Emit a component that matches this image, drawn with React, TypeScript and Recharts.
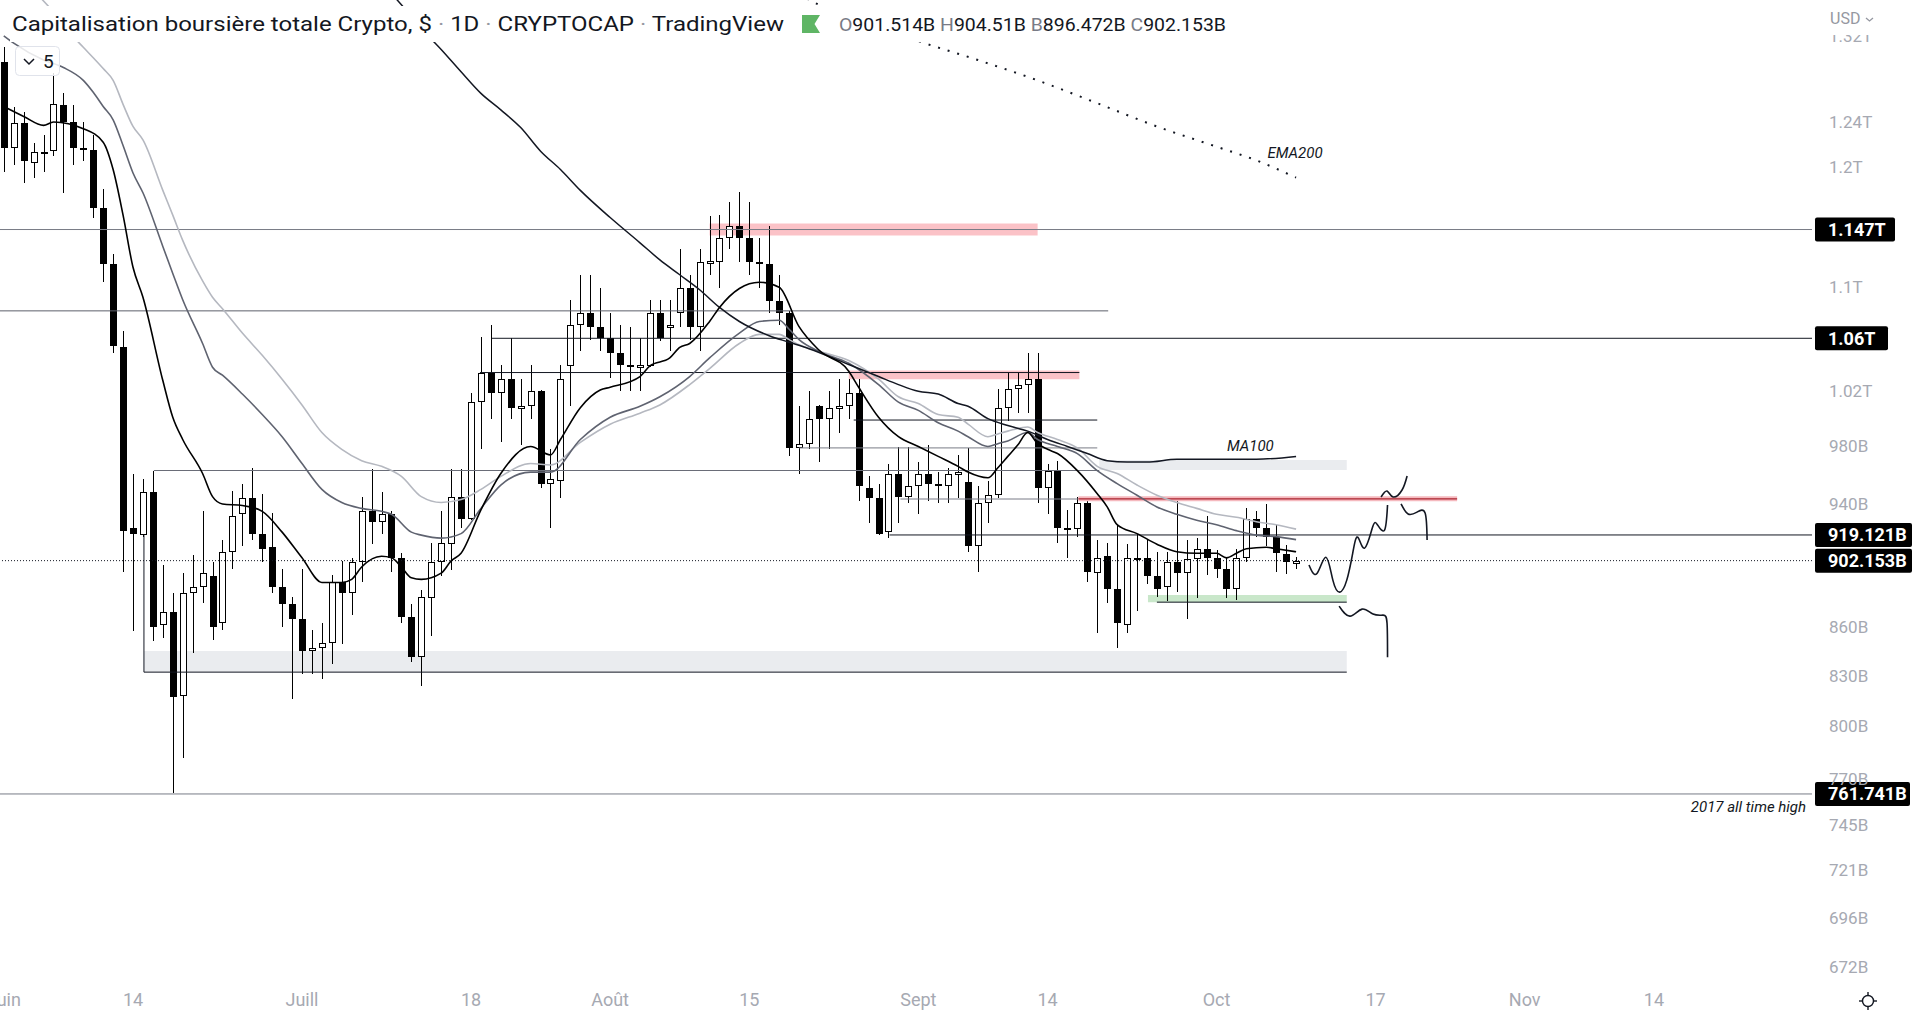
import React from 'react';
import {
  ComposedChart,
  Bar,
  Line,
  XAxis,
  YAxis,
  ReferenceLine,
  ReferenceArea,
  ReferenceDot,
} from 'recharts';

// ---- Daily candles, first candle = 2022-06-01 (index = day number) ----
const OPEN = [
  1295, 1217, 1239, 1204, 1213, 1214, 1255, 1240, 1217, 1215,
  1165, 1119, 1053, 924, 919, 948, 861, 869, 818, 881,
  885, 892, 862, 908, 933, 944, 920, 911, 885, 874,
  865, 845, 847, 850, 888, 881, 901, 935, 928, 933,
  904, 866, 841, 878, 901, 913, 945, 930, 1012, 1034,
  1019, 1029, 1008, 1009, 1020, 954, 956, 1039, 1070, 1080,
  1069, 1060, 1049, 1040, 1039, 1039, 1080, 1069, 1080, 1099,
  1069, 1120, 1120, 1140, 1150, 1140, 1120, 1119, 1089, 1080,
  979, 982, 1009, 1000, 1008, 1009, 1019, 951, 944, 921,
  961, 945, 952, 961, 954, 952, 961, 955, 912, 941,
  946, 1008, 1022, 1025, 1029, 951, 963, 924, 923, 941,
  894, 905, 884, 861, 904, 904, 892, 885, 901, 894,
  903, 910, 904, 897, 884, 904, 930, 924, 918, 906.5,
  901.514,
];
const HIGH = [
  1309, 1254, 1249, 1221, 1228, 1285, 1266, 1255, 1240, 1228,
  1181, 1127, 1066, 961, 957, 963, 899, 881, 894, 906,
  935, 901, 916, 949, 954, 965, 947, 934, 897, 879,
  897, 858, 862, 893, 902, 904, 945, 964, 948, 935,
  907, 874, 883, 914, 935, 964, 964, 1019, 1061, 1070,
  1040, 1060, 1029, 1040, 1021, 978, 1040, 1090, 1110, 1110,
  1099, 1080, 1070, 1069, 1060, 1090, 1090, 1090, 1131, 1110,
  1131, 1158, 1159, 1170, 1179, 1170, 1140, 1150, 1110, 1081,
  1009, 1020, 1010, 1020, 1029, 1029, 1029, 959, 954, 968,
  980, 980, 969, 981, 962, 965, 974, 979, 952, 956,
  1022, 1034, 1034, 1049, 1049, 968, 970, 936, 945, 944,
  916, 914, 926, 913, 920, 916, 908, 908, 943, 916,
  917, 932, 909, 904, 910, 937, 935, 940, 926, 912.5,
  904.51,
];
const LOW = [
  1196, 1202, 1186, 1191, 1196, 1210, 1178, 1202, 1205, 1157,
  1104, 1049, 895, 857, 918, 851, 853, 762, 782, 844,
  875, 852, 858, 897, 912, 916, 901, 881, 860, 816,
  831, 831, 828, 837, 849, 867, 888, 913, 920, 895,
  862, 838, 824, 854, 892, 896, 924, 929, 978, 1000,
  983, 1000, 981, 1000, 951, 924, 944, 1009, 1050, 1059,
  1050, 1030, 1020, 1020, 1020, 1038, 1058, 1050, 1069, 1059,
  1050, 1110, 1099, 1131, 1120, 1110, 1099, 1080, 1070, 973,
  961, 978, 969, 978, 990, 1000, 942, 927, 919, 917,
  927, 941, 933, 942, 941, 941, 944, 908, 895, 927,
  944, 998, 1004, 1004, 941, 933, 914, 904, 918, 888,
  856, 875, 847, 856, 870, 887, 879, 876, 882, 865,
  878, 893, 891, 878, 877, 901, 918, 912, 895, 893.4,
  896.472,
];
const CLOSE = [
  1217, 1239, 1205, 1213, 1212, 1256, 1240, 1217, 1215, 1165,
  1119, 1054, 922, 920, 948, 860, 869, 817, 881, 885,
  894, 860, 908, 932, 944, 920, 910, 885, 874, 865,
  845, 847, 850, 888, 881, 901, 935, 928, 933, 904,
  866, 841, 879, 901, 914, 945, 930, 1012, 1034, 1019,
  1029, 1008, 1009, 1020, 954, 957, 1029, 1070, 1080, 1069,
  1060, 1049, 1040, 1039, 1039.5, 1080, 1060, 1070, 1099, 1069,
  1120, 1121, 1140, 1150, 1140, 1120, 1119, 1089, 1080, 979,
  982, 1000, 1000, 1008, 1009, 1019, 952, 944, 920, 961,
  945, 952, 961, 954, 952, 961, 962, 912, 941, 946,
  1008, 1022, 1025, 1029, 951, 963, 924, 923, 941, 895,
  904, 884, 862, 904, 903, 892, 884, 901, 894, 903,
  910, 904, 897, 884, 904, 930, 924, 918, 907, 901.5,
  902.153,
];

// ---- Moving averages: [day, value in B] ----
const EMA_FAST: [number, number][] = [
  [0, 1254], [2, 1245], [4, 1237], [5, 1240], [8, 1234], [10, 1222], [11, 1198], [12, 1159],
  [13, 1116], [14, 1092], [16, 1028], [17, 1001], [18, 985], [20, 961], [21, 945], [22, 940],
  [24, 939], [26, 935], [28, 921], [30, 904], [32, 888], [34, 888], [35, 890], [36, 898],
  [38, 905], [39, 904], [40, 898], [41, 891], [42, 890], [44, 894], [45, 902], [46, 907],
  [48, 936], [50, 961], [53, 980], [55, 974], [56, 985], [58, 1008], [60, 1021], [61, 1023],
  [64, 1031], [65, 1039], [67, 1045], [68, 1053], [69, 1056], [71, 1073], [72, 1084], [74, 1099],
  [76, 1104], [78, 1100], [80, 1069], [82, 1051], [85, 1035], [86, 1023], [88, 1001], [90, 987],
  [92, 980], [94, 973], [96, 966], [97, 962], [99, 958], [100, 965], [101, 973], [102, 981],
  [103, 990], [104, 982], [105, 978], [106, 975], [108, 963], [110, 947], [111, 938], [112, 926],
  [114, 920], [116, 913], [118, 908], [120, 907], [122, 907], [123, 904], [124, 907], [125, 910],
  [127, 911], [128, 910], [130, 908],
];
const EMA_MID: [number, number][] = [
  [0, 1320], [1, 1313], [4, 1297], [6, 1290], [8, 1278], [9, 1267], [10, 1254], [11, 1242],
  [12, 1219], [13, 1195], [14, 1178], [16, 1133], [17, 1111], [18, 1090], [20, 1056], [21, 1038],
  [22, 1032], [24, 1018], [26, 1003], [28, 987], [30, 968], [32, 950], [34, 941], [36, 937],
  [38, 935], [39, 933], [41, 921], [42, 919], [44, 917], [46, 920], [48, 937], [50, 953],
  [53, 962], [55, 962], [58, 985], [61, 1001], [64, 1009], [66, 1016], [69, 1031], [71, 1045],
  [74, 1064], [76, 1073], [78, 1074], [79, 1067], [80, 1059], [82, 1050], [85, 1041], [88, 1025],
  [90, 1012], [92, 1006], [94, 997], [96, 991], [97, 987], [99, 980], [100, 982], [101, 984],
  [103, 990], [104, 985], [106, 980], [108, 975], [110, 963], [112, 954], [114, 946], [116, 938],
  [118, 933], [120, 929], [122, 926], [124, 922], [126, 919], [128, 918], [130, 916],
];
const EMA_SLOW: [number, number][] = [
  [3, 1364], [5, 1343], [7, 1319], [8, 1309], [10, 1289], [11, 1278], [12, 1256], [13, 1236],
  [14, 1224], [16, 1180], [17, 1159], [18, 1138], [20, 1105], [21, 1092], [22, 1083], [24, 1064],
  [26, 1047], [28, 1029], [30, 1010], [32, 990], [34, 978], [36, 970], [38, 966], [40, 959],
  [42, 945], [44, 941], [46, 943], [48, 950], [50, 959], [53, 968], [55, 967], [58, 983],
  [61, 996], [64, 1004], [66, 1010], [69, 1025], [71, 1037], [74, 1056], [76, 1063], [78, 1063],
  [79, 1059], [80, 1055], [82, 1050], [85, 1043], [88, 1029], [90, 1016], [92, 1011], [94, 1003],
  [96, 1001], [97, 996], [99, 987], [100, 989], [101, 991], [103, 994], [104, 990], [106, 985],
  [108, 979], [110, 966], [112, 961], [114, 953], [116, 946], [118, 941], [120, 937], [122, 933],
  [124, 931], [126, 928], [128, 926], [130, 923],
];
const MA100: [number, number][] = [
  [38, 1372], [40, 1350], [42, 1327], [44, 1307], [46, 1286], [48, 1266], [50, 1251], [52, 1235],
  [54, 1214], [56, 1198], [58, 1180], [61, 1157], [64, 1136], [66, 1122], [68, 1110], [70, 1098],
  [72, 1084], [74, 1073], [77, 1062], [79, 1057], [81, 1052], [85, 1040], [88, 1031], [90, 1025],
  [92, 1020], [94, 1018], [96, 1011], [97, 1009], [99, 1000], [101, 995], [103, 991], [105, 985],
  [107, 980], [109, 975], [111, 970], [113, 969], [115, 969], [118, 971], [122, 971], [126, 971],
  [130, 973],
];
const EMA200: [number, number][] = [
  [80, 1362], [81, 1355], [82, 1350], [88, 1329], [92, 1315], [98, 1297], [104, 1278],
  [110, 1257], [116, 1236], [122, 1218], [126, 1206], [130, 1191],
];

// ---- Hand-drawn forecast strokes: [day, value] ----
const SKETCH_A: [number, number][] = [
  [131.3, 899.3], [132.1, 893.8], [133.0, 904.4], [133.7, 889.5], [134.4, 881.8], [135.1, 889.5],
  [135.7, 907.1], [136.2, 917.7], [136.9, 910.4], [137.7, 924.4], [138.2, 925.8], [138.9, 922.4],
  [139.2, 939.3],
];
const SKETCH_A2: [number, number][] = [
  [138.55, 944.8], [139.15, 948.9], [139.76, 944.8], [140.66, 949.6], [141.17, 959.3],
];
const SKETCH_B: [number, number][] = [
  [140.56, 940.0], [141.27, 933.2], [142.17, 934.5], [142.98, 933.9], [143.18, 915.7],
];
const SKETCH_C: [number, number][] = [
  [134.33, 872.9], [135.43, 866.6], [136.64, 871.0], [137.74, 867.9], [138.75, 867.2],
  [139.15, 862.2], [139.2, 841.2],
];

// ---- Axes ----
const TIME_TICKS = [0, 13, 30, 47, 61, 75, 92, 105, 122, 138, 153, 166];
const TIME_LABELS = ['Juin', '14', 'Juill', '18', 'Août', '15', 'Sept', '14', 'Oct', '17', 'Nov', '14'];
const PRICE_TICKS = [1320, 1240, 1200, 1100, 1020, 980, 940, 860, 830, 800, 770, 745, 721, 696, 672];
const X_DOMAIN: [number, number] = [-0.38, 181.9];
const Y_DOMAIN: [number, number] = [663.2, 1354.7];

const candles = OPEN.map((o, i) => ({
  d: i,
  open: o,
  high: HIGH[i],
  low: LOW[i],
  close: CLOSE[i],
  range: [LOW[i], HIGH[i]],
}));
const series = (pts: [number, number][]) => pts.map(([d, v]) => ({ d, v }));

const FONT = 'Roboto, "Noto Sans", sans-serif';

const Candle = (props: any) => {
  const { x, y, width, height, payload } = props;
  if (!payload || !isFinite(x) || !isFinite(y) || !isFinite(height)) return null;
  const { open, close, high, low } = payload;
  const lh = Math.log(high);
  const ll = Math.log(low);
  const span = lh - ll || 1;
  const toY = (v: number) => y + ((lh - Math.log(v)) / span) * height;
  const cx = Math.round(x + width / 2);
  const up = close >= open;
  const top = Math.round(toY(Math.max(open, close)));
  const bot = Math.round(toY(Math.min(open, close)));
  const yh = Math.round(toY(high));
  const yl = Math.round(toY(low));
  return (
    <g>
      <line x1={cx + 0.5} x2={cx + 0.5} y1={yh} y2={yl} stroke="#000" strokeWidth={1} />
      {up ? (
        <rect
          x={cx - 2.5}
          y={top + 0.5}
          width={6}
          height={Math.max(bot - top - 1, 2)}
          fill="#fff"
          stroke="#000"
          strokeWidth={1}
        />
      ) : (
        <rect x={cx - 3} y={top} width={7} height={Math.max(bot - top, 2)} fill="#000" />
      )}
    </g>
  );
};

const TimeTick = (props: any) => {
  const { x, y, payload } = props;
  const i = TIME_TICKS.indexOf(payload.value);
  return (
    <text x={x} y={y + 15} dy="0.35em" textAnchor="middle" fontSize={18} fill="#a6a9b2" fontFamily={FONT}>
      {TIME_LABELS[i]}
    </text>
  );
};

const fmtPrice = (v: number) => (v >= 1000 ? `${v / 1000}T` : `${v}B`);

const PriceTick = (props: any) => {
  const { x, y, payload } = props;
  return (
    <text x={x + 17} y={y} dy="0.35em" textAnchor="start" fontSize={17} fill="#a6a9b2" fontFamily={FONT}>
      {fmtPrice(payload.value)}
    </text>
  );
};

const tag = (text: string, w: number) => (p: any) => {
  const vb = p.viewBox || {};
  const right = (vb.x ?? 0) + (vb.width ?? 0);
  const cy = vb.y ?? 0;
  return (
    <g>
      <rect x={right + 3} y={cy - 12} width={w} height={24} rx={2} fill="#000" />
      <text x={right + 16} y={cy} dy="0.36em" fill="#fff" fontSize={18} fontWeight={700} fontFamily={FONT}>
        {text}
      </text>
    </g>
  );
};

const note = (text: string, anchor: 'start' | 'middle' | 'end') => (p: any) => (
  <text
    x={p.cx}
    y={p.cy}
    dy="0.35em"
    textAnchor={anchor}
    fontSize={15}
    fontStyle="italic"
    fill="#131722"
    fontFamily={FONT}
  >
    {text}
  </text>
);

const lineCommon = {
  dataKey: 'v',
  dot: false,
  activeDot: false,
  isAnimationActive: false,
} as const;

export default function App() {
  return (
    <div style={{ position: 'absolute', left: 0, top: 0, width: 1920, height: 1012, background: '#fff' }}>
      <ComposedChart
        width={1920}
        height={1012}
        data={candles}
        margin={{ top: 0, right: 0, bottom: 0, left: 0 }}
        barSize={7}
      >
        <XAxis
          dataKey="d"
          type="number"
          domain={X_DOMAIN}
          allowDataOverflow
          ticks={TIME_TICKS}
          interval={0}
          tick={<TimeTick />}
          tickLine={false}
          axisLine={false}
          tickSize={0}
          tickMargin={0}
          height={27}
        />
        <YAxis
          orientation="right"
          type="number"
          scale="log"
          domain={Y_DOMAIN}
          allowDataOverflow
          ticks={PRICE_TICKS}
          interval={0}
          tick={<PriceTick />}
          tickLine={false}
          axisLine={false}
          tickSize={0}
          tickMargin={0}
          width={108}
        />

        {/* zones */}
        <ReferenceArea x1={71} x2={104} y1={1142} y2={1152} fill="#f23645" fillOpacity={0.3} stroke="none" />
        <ReferenceArea x1={85} x2={108.2} y1={1029} y2={1035.5} fill="#f23645" fillOpacity={0.3} stroke="none" />
        <ReferenceArea x1={110.2} x2={135.1} y1={963.4} y2={970.4} fill="#d1d4dc" fillOpacity={0.45} stroke="none" />
        <ReferenceArea x1={115.1} x2={135.1} y1={875.4} y2={879.9} fill="#4caf50" fillOpacity={0.3} stroke="none" />
        <ReferenceArea x1={14.1} x2={135.1} y1={832.1} y2={844.9} fill="#d1d4dc" fillOpacity={0.45} stroke="none" />

        {/* horizontal drawings */}
        <ReferenceLine y={1147} stroke="#787b86" strokeWidth={1} label={tag('1.147T', 80)} />
        <ReferenceLine
          segment={[{ x: X_DOMAIN[0], y: 1081.3 }, { x: 111.1, y: 1081.3 }]}
          stroke="#5d606b"
          strokeWidth={1}
        />
        <ReferenceLine segment={[{ x: 49.1, y: 1060 }, { x: X_DOMAIN[1], y: 1060 }]} stroke="#131722" strokeWidth={1} />
        <ReferenceLine y={1060} stroke="none" label={tag('1.06T', 73)} />
        <ReferenceLine segment={[{ x: 47.9, y: 1034 }, { x: 108.2, y: 1034 }]} stroke="#131722" strokeWidth={1} />
        <ReferenceLine segment={[{ x: 85.5, y: 999 }, { x: 110, y: 999 }]} stroke="#131722" strokeWidth={1} />
        <ReferenceLine segment={[{ x: 80, y: 979 }, { x: 110, y: 979 }]} stroke="#787b86" strokeWidth={1} />
        <ReferenceLine segment={[{ x: 15.1, y: 963.1 }, { x: 110.2, y: 963.1 }]} stroke="#6a6d78" strokeWidth={1} />
        <ReferenceLine segment={[{ x: 90.2, y: 943.4 }, { x: 108.1, y: 943.4 }]} stroke="#787b86" strokeWidth={1} />
        <ReferenceLine segment={[{ x: 108.1, y: 943.5 }, { x: 146.2, y: 943.5 }]} stroke="#f5b9be" strokeWidth={5} />
        <ReferenceLine segment={[{ x: 108.1, y: 943.5 }, { x: 146.2, y: 943.5 }]} stroke="#a8232e" strokeWidth={1.4} />
        <ReferenceLine segment={[{ x: 89.1, y: 919.121 }, { x: X_DOMAIN[1], y: 919.121 }]} stroke="#131722" strokeWidth={1} />
        <ReferenceLine y={919.121} stroke="none" label={tag('919.121B', 97)} />
        <ReferenceLine y={902.153} stroke="#131722" strokeWidth={1} strokeDasharray="1 2" label={tag('902.153B', 97)} />
        <ReferenceLine segment={[{ x: 116, y: 875.4 }, { x: 135.1, y: 875.4 }]} stroke="#131722" strokeWidth={1} />
        <ReferenceLine segment={[{ x: 14.1, y: 832.1 }, { x: 135.1, y: 832.1 }]} stroke="#131722" strokeWidth={1} />
        <ReferenceLine segment={[{ x: 14.1, y: 919 }, { x: 14.1, y: 832.1 }]} stroke="#131722" strokeWidth={1} />
        <ReferenceLine y={761.741} stroke="#787b86" strokeWidth={1} label={tag('761.741B', 95)} />

        {/* candles */}
        <Bar dataKey="range" isAnimationActive={false} activeBar={false} shape={(p: any) => <Candle {...p} />} />

        {/* indicators */}
        <Line {...lineCommon} data={series(EMA_SLOW)} type="monotone" stroke="#b5b8c0" strokeWidth={1.6} />
        <Line {...lineCommon} data={series(EMA_MID)} type="monotone" stroke="#5f6370" strokeWidth={1.6} />
        <Line {...lineCommon} data={series(MA100)} type="monotone" stroke="#131722" strokeWidth={1.5} />
        <Line {...lineCommon} data={series(EMA_FAST)} type="monotone" stroke="#000" strokeWidth={1.6} />
        <Line {...lineCommon} data={series(EMA200)} type="monotone" stroke="#131722" strokeWidth={2} strokeDasharray="2 8" />

        {/* sketches */}
        <Line {...lineCommon} data={series(SKETCH_A)} type="natural" stroke="#131722" strokeWidth={1.6} />
        <Line {...lineCommon} data={series(SKETCH_A2)} type="natural" stroke="#131722" strokeWidth={1.6} />
        <Line {...lineCommon} data={series(SKETCH_B)} type="natural" stroke="#131722" strokeWidth={1.6} />
        <Line {...lineCommon} data={series(SKETCH_C)} type="natural" stroke="#131722" strokeWidth={1.6} />

        {/* annotations */}
        <ReferenceDot x={125.4} y={980.7} r={1} shape={note('MA100', 'middle')} />
        <ReferenceDot x={129.9} y={1212.4} r={1} shape={note('EMA200', 'middle')} />
        <ReferenceDot x={181.3} y={754.6} r={1} shape={note('2017 all time high', 'end')} />
      </ComposedChart>

      <svg
        width={1920}
        height={1012}
        style={{ position: 'absolute', left: 0, top: 0, pointerEvents: 'none' }}
      >
        <rect x={10} y={6} width={1222} height={36} fill="#fff" />
        <text
          x={12}
          y={31}
          fontSize={21}
          fontFamily={FONT}
          fill="#131722"
          textLength={772}
          lengthAdjust="spacingAndGlyphs"
        >
          Capitalisation boursière totale Crypto, ${' '}
          <tspan fill="#9598a1">·</tspan> 1D <tspan fill="#9598a1">·</tspan> CRYPTOCAP{' '}
          <tspan fill="#9598a1">·</tspan> TradingView
        </text>
        <path d="M802 15 H820 L814.5 24 L820 33 H802 Z" fill="#5fb565" />
        <text
          x={839}
          y={31}
          fontSize={18.5}
          fontFamily={FONT}
          fill="#131722"
          textLength={387}
          lengthAdjust="spacingAndGlyphs"
        >
          <tspan fill="#787b86">O</tspan>901.514B <tspan fill="#787b86">H</tspan>904.51B{' '}
          <tspan fill="#787b86">B</tspan>896.472B <tspan fill="#787b86">C</tspan>902.153B
        </text>

        <rect x={15.5} y={46.5} width={44} height={29} rx={4} fill="#fff" fillOpacity={0.85} stroke="#e0e3eb" />
        <path d="M24 59 L29 64 L34 59" stroke="#131722" strokeWidth={1.5} fill="none" />
        <text x={43} y={68} fontSize={19} fontFamily={FONT} fill="#131722">
          5
        </text>

        <rect x={1813} y={0} width={107} height={35} fill="#fff" />
        <text x={1830} y={24} fontSize={16} fontFamily={FONT} fill="#9598a1">
          USD
        </text>
        <path d="M1866 18 L1869.5 21 L1873 18" stroke="#9598a1" strokeWidth={1.3} fill="none" />

        <g stroke="#131722" strokeWidth={1.4} fill="none">
          <circle cx={1868} cy={1001} r={5.5} />
          <line x1={1868} y1={992} x2={1868} y2={995.5} />
          <line x1={1868} y1={1006.5} x2={1868} y2={1010} />
          <line x1={1859} y1={1001} x2={1862.5} y2={1001} />
          <line x1={1873.5} y1={1001} x2={1877} y2={1001} />
        </g>
      </svg>
    </div>
  );
}
